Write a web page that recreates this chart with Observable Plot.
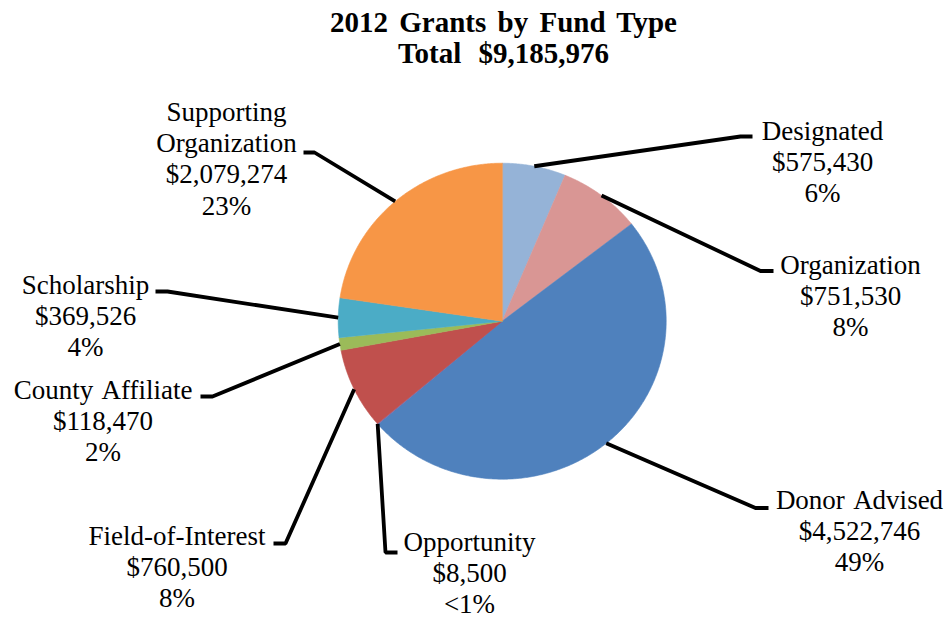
<!DOCTYPE html>
<html>
<head>
<meta charset="utf-8">
<script src="https://cdn.jsdelivr.net/npm/d3@7"></script>
<script src="https://cdn.jsdelivr.net/npm/@observablehq/plot@0.6"></script>
<style>
  html, body { margin: 0; padding: 0; background: #fff; }
  #title {
    font-family: "Liberation Serif", "Times New Roman", serif;
    font-weight: bold; font-size: 29px; line-height: 31px;
    text-align: center; padding: 7px 0 0 56px; width: 895px;
    color: #000; height: 62px;
  }
  #title div { height: 31px; white-space: nowrap; }
</style>
</head>
<body>
<div id="title"><div style="word-spacing:4px">2012 Grants by Fund Type</div><div style="word-spacing:10px">Total $9,185,976</div></div>
<div id="chart"></div>
<script>
// ---- data ----
const categories = ["Designated", "Organization", "Donor Advised", "Opportunity", "Field-of-Interest", "County Affiliate", "Scholarship", "Supporting Organization"];
const amounts = [575430, 751530, 4522746, 8500, 760500, 118470, 369526, 2079274];
const percentLabels = ["6%", "8%", "49%", "<1%", "8%", "2%", "4%", "23%"];
const displayNames = ["Designated", "Organization", "Donor Advised", "Opportunity", "Field-of-Interest", "County Affiliate", "Scholarship", "Supporting\nOrganization"];

// ---- styles / layout ----
const colors = ["#95B3D7", "#D99694", "#4F81BD", "#8064A2", "#C0504D", "#9BBB59", "#4BACC6", "#F79646"];
const W = 951, TOP = 69, H = 620 - TOP;
const cx = 501.7, cy = 320.7, rx = 164, ry = 158;
const labelCenters = [[822, 160.5], [850, 294.5], [859, 529.5], [469, 572], [176.5, 566], [102.5, 420], [85, 314.5], [226, 157.5]];
const leaderElbows = [[740, 136], [760, 270.5], [755, 507.5], [385, 552], [285, 543], [212, 396], [167, 291], [314, 152]];
const leaderEnds = [[752, 136], [773, 270.5], [768, 507.5], [397, 552], [273, 543], [200, 396], [155, 291], [303, 152]];

const fmt = d3.format("$,");
const rows = categories.map((name, i) => ({name, amount: amounts[i], i}));
const arcs = d3.pie().sort(null).value(d => d.amount)(rows);

const pt = a => ({x: cx + rx * Math.sin(a), y: cy - ry * Math.cos(a)});

const slicePts = [];
arcs.forEach(arc => {
  const name = arc.data.name;
  slicePts.push({name, x: cx, y: cy});
  const n = Math.max(2, Math.ceil((arc.endAngle - arc.startAngle) / (Math.PI / 360)));
  for (let k = 0; k <= n; k++) {
    const a = arc.startAngle + (arc.endAngle - arc.startAngle) * k / n;
    slicePts.push({name, ...pt(a)});
  }
});

const leaderPts = [];
arcs.forEach((arc, i) => {
  const name = arc.data.name;
  const p = pt((arc.startAngle + arc.endAngle) / 2);
  leaderPts.push({name, x: p.x, y: p.y});
  leaderPts.push({name, x: leaderElbows[i][0], y: leaderElbows[i][1]});
  leaderPts.push({name, x: leaderEnds[i][0], y: leaderEnds[i][1]});
});

const labels = rows.map((r, i) => ({
  text: displayNames[i] + "\n" + fmt(r.amount) + "\n" + percentLabels[i],
  x: labelCenters[i][0], y: labelCenters[i][1]
}));

const chart = Plot.plot({
  width: W, height: H,
  margin: 0,
  style: {fontFamily: "'Liberation Serif', 'Times New Roman', serif", background: "#fff", wordSpacing: "3px"},
  x: {domain: [0, W], range: [0, W], axis: null},
  y: {domain: [TOP, TOP + H], range: [0, H], axis: null},
  color: {domain: categories, range: colors},
  marks: [
    Plot.line(slicePts, {x: "x", y: "y", z: "name", fill: "name", stroke: "name", strokeWidth: 0.6, curve: "linear-closed"}),
    Plot.line(leaderPts, {x: "x", y: "y", z: "name", stroke: "#000", strokeWidth: 3.8, strokeLinejoin: "miter", strokeLinecap: "butt"}),
    Plot.text(labels, {x: "x", y: "y", text: "text", fontSize: 27, lineHeight: 1.15, textAnchor: "middle", lineAnchor: "middle", fill: "#000"})
  ]
});
document.getElementById("chart").appendChild(chart);
</script>
</body>
</html>
